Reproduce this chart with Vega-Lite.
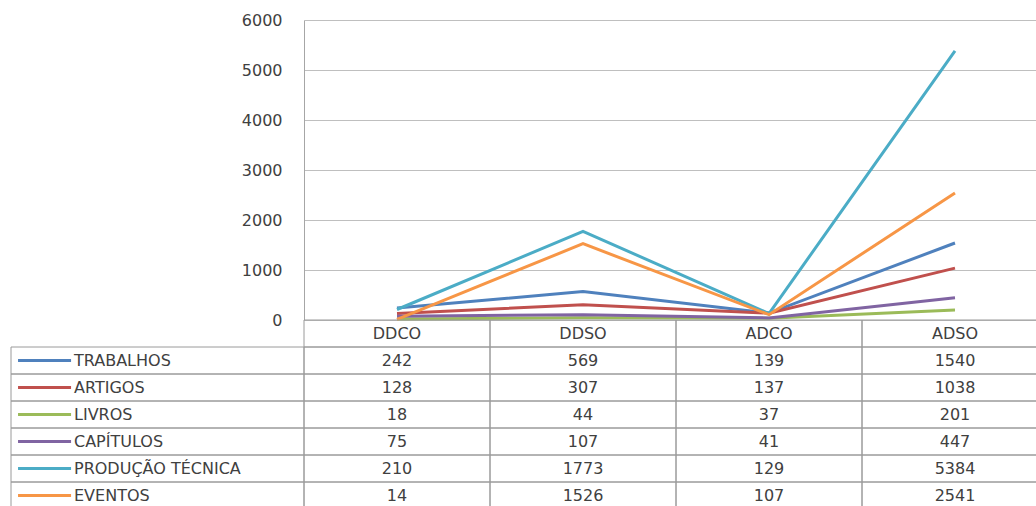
{
  "$schema": "https://vega.github.io/schema/vega-lite/v6.json",
  "padding": {"left": 10, "top": 12, "right": 0, "bottom": 0},
  "background": "white",
  "config": {"view": {"stroke": null}, "font": "DejaVu Sans"},
  "datasets": {
    "t": [
      {"cat": "DDCO", "series": "TRABALHOS", "value": 242},
      {"cat": "DDSO", "series": "TRABALHOS", "value": 569},
      {"cat": "ADCO", "series": "TRABALHOS", "value": 139},
      {"cat": "ADSO", "series": "TRABALHOS", "value": 1540},
      {"cat": "DDCO", "series": "ARTIGOS", "value": 128},
      {"cat": "DDSO", "series": "ARTIGOS", "value": 307},
      {"cat": "ADCO", "series": "ARTIGOS", "value": 137},
      {"cat": "ADSO", "series": "ARTIGOS", "value": 1038},
      {"cat": "DDCO", "series": "LIVROS", "value": 18},
      {"cat": "DDSO", "series": "LIVROS", "value": 44},
      {"cat": "ADCO", "series": "LIVROS", "value": 37},
      {"cat": "ADSO", "series": "LIVROS", "value": 201},
      {"cat": "DDCO", "series": "CAPÍTULOS", "value": 75},
      {"cat": "DDSO", "series": "CAPÍTULOS", "value": 107},
      {"cat": "ADCO", "series": "CAPÍTULOS", "value": 41},
      {"cat": "ADSO", "series": "CAPÍTULOS", "value": 447},
      {"cat": "DDCO", "series": "PRODUÇÃO TÉCNICA", "value": 210},
      {"cat": "DDSO", "series": "PRODUÇÃO TÉCNICA", "value": 1773},
      {"cat": "ADCO", "series": "PRODUÇÃO TÉCNICA", "value": 129},
      {"cat": "ADSO", "series": "PRODUÇÃO TÉCNICA", "value": 5384},
      {"cat": "DDCO", "series": "EVENTOS", "value": 14},
      {"cat": "DDSO", "series": "EVENTOS", "value": 1526},
      {"cat": "ADCO", "series": "EVENTOS", "value": 107},
      {"cat": "ADSO", "series": "EVENTOS", "value": 2541}
    ]
  },
  "columns": 2,
  "spacing": 0,
  "bounds": "flush",
  "concat": [
    {
      "width": 293,
      "height": 300,
      "data": {"values": [{"k": 1}]},
      "mark": {"type": "point", "opacity": 0},
      "encoding": {}
    },
    {
      "width": 744,
      "height": 300,
      "data": {"name": "t"},
      "mark": {"type": "line", "strokeWidth": 3},
      "encoding": {
        "x": {"field": "cat", "type": "nominal", "scale": {"type": "point", "padding": 0.5, "domain": ["DDCO", "DDSO", "ADCO", "ADSO"]}, "axis": null},
        "y": {
          "field": "value", "type": "quantitative",
          "scale": {"domain": [0, 6000], "nice": false},
          "axis": {"values": [0, 1000, 2000, 3000, 4000, 5000, 6000], "format": "d", "title": null, "ticks": false, "domainColor": "#a6a6a6", "gridColor": "#bfbfbf", "labelFontSize": 16, "labelColor": "#404040", "labelPadding": 22}
        },
        "color": {
          "field": "series", "type": "nominal",
          "scale": {"domain": ["TRABALHOS", "ARTIGOS", "LIVROS", "CAPÍTULOS", "PRODUÇÃO TÉCNICA", "EVENTOS"], "range": ["#4F81BD", "#C0504D", "#9BBB59", "#8064A2", "#4BACC6", "#F79646"]},
          "legend": null
        }
      }
    },
    {
      "width": 293,
      "height": 189,
      "data": {"name": "t"},
      "transform": [{"filter": "datum.cat == 'DDCO'"}],
      "layer": [
        {
          "mark": {"type": "rect", "fill": "transparent", "stroke": "#9a9a9a", "strokeWidth": 1},
          "encoding": {
            "x": {"datum": 0, "type": "quantitative", "scale": {"domain": [0, 1], "nice": false, "zero": false}, "axis": null},
            "x2": {"datum": 1},
            "y": {"field": "series", "type": "nominal", "scale": {"type": "band", "domain": ["CAT", "TRABALHOS", "ARTIGOS", "LIVROS", "CAPÍTULOS", "PRODUÇÃO TÉCNICA", "EVENTOS"], "paddingInner": 0, "paddingOuter": 0}, "axis": null}
          }
        },
        {
          "mark": {"type": "rule", "strokeWidth": 3},
          "encoding": {
            "x": {"datum": 0.024, "type": "quantitative"},
            "x2": {"datum": 0.205},
            "y": {"field": "series", "type": "nominal"},
            "color": {
              "field": "series", "type": "nominal",
              "scale": {"domain": ["TRABALHOS", "ARTIGOS", "LIVROS", "CAPÍTULOS", "PRODUÇÃO TÉCNICA", "EVENTOS"], "range": ["#4F81BD", "#C0504D", "#9BBB59", "#8064A2", "#4BACC6", "#F79646"]},
              "legend": null
            }
          }
        },
        {
          "mark": {"type": "text", "align": "left", "baseline": "middle", "fontSize": 16, "color": "#404040"},
          "encoding": {
            "x": {"datum": 0.215, "type": "quantitative"},
            "y": {"field": "series", "type": "nominal"},
            "text": {"field": "series"}
          }
        }
      ]
    },
    {
      "width": 744,
      "height": 189,
      "data": {"name": "t"},
      "layer": [
        {
          "mark": {"type": "rect", "fill": "transparent", "stroke": "#9a9a9a", "strokeWidth": 1},
          "encoding": {
            "x": {"field": "cat", "type": "nominal", "scale": {"type": "band", "domain": ["DDCO", "DDSO", "ADCO", "ADSO"], "paddingInner": 0, "paddingOuter": 0}, "axis": null},
            "y": {"field": "series", "type": "nominal", "scale": {"type": "band", "domain": ["CAT", "TRABALHOS", "ARTIGOS", "LIVROS", "CAPÍTULOS", "PRODUÇÃO TÉCNICA", "EVENTOS"], "paddingInner": 0, "paddingOuter": 0}, "axis": null}
          }
        },
        {
          "transform": [{"filter": "datum.series == 'TRABALHOS'"}],
          "mark": {"type": "rect", "fill": "transparent", "stroke": "#9a9a9a", "strokeWidth": 1},
          "encoding": {
            "x": {"field": "cat", "type": "nominal"},
            "y": {"datum": "CAT", "type": "nominal"}
          }
        },
        {
          "mark": {"type": "text", "baseline": "middle", "fontSize": 16, "color": "#404040"},
          "encoding": {
            "x": {"field": "cat", "type": "nominal"},
            "y": {"field": "series", "type": "nominal"},
            "text": {"field": "value", "type": "quantitative", "format": "d"}
          }
        },
        {
          "transform": [{"filter": "datum.series == 'TRABALHOS'"}],
          "mark": {"type": "text", "baseline": "middle", "fontSize": 16, "color": "#404040"},
          "encoding": {
            "x": {"field": "cat", "type": "nominal"},
            "y": {"datum": "CAT", "type": "nominal"},
            "text": {"field": "cat"}
          }
        }
      ]
    }
  ]
}
